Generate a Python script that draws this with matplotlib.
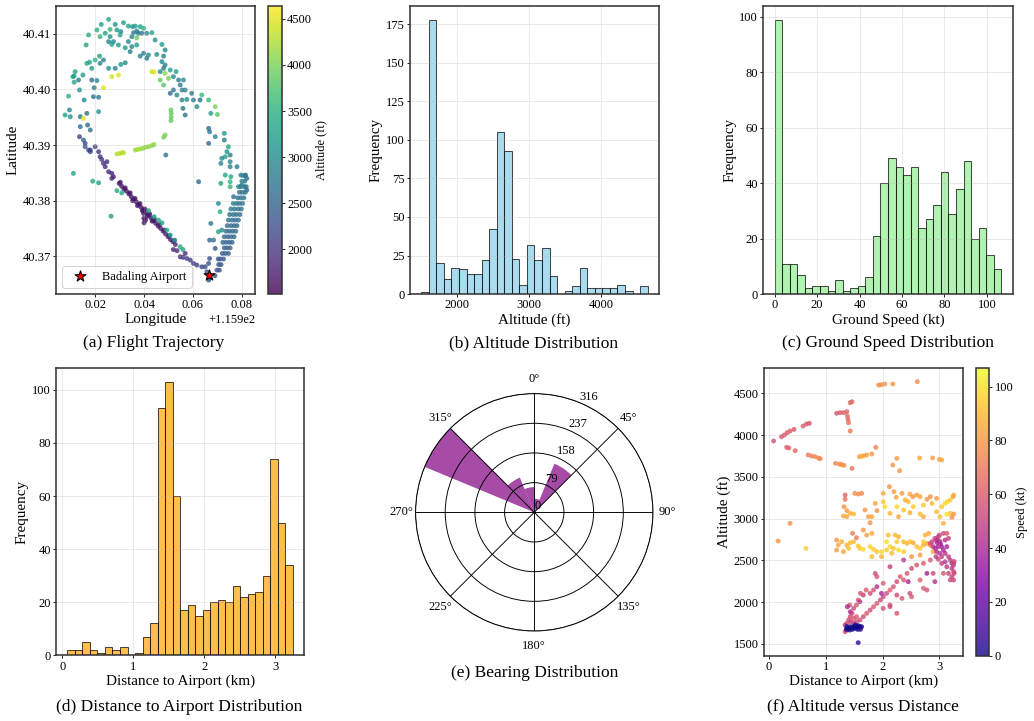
import numpy as np
import matplotlib.pyplot as plt

plt.rcParams['font.family'] = ['Liberation Serif', 'DejaVu Serif']
plt.rcParams['font.size'] = 12

# ---------------- data ----------------
airport_lon = 115.9666
airport_lat = 40.3666

# (a) trajectory points: longitude, latitude, altitude (ft)
traj_lon = [
    # scattered loop
    115.9077, 115.9095, 115.9114, 115.9114, 115.9132, 115.9091, 115.9098, 115.9139, 115.9139, 115.9136,
    115.9152, 115.9152, 115.9169, 115.9180, 115.9159, 115.9173, 115.9180, 115.9155, 115.9166, 115.9193,
    115.9214, 115.9214, 115.9150, 115.9166, 115.9177, 115.9186, 115.9200, 115.9218, 115.9220, 115.9234,
    115.9255, 115.9282, 115.9305, 115.9323, 115.9295, 115.9268, 115.9234, 115.9186, 115.9196, 115.9207,
    115.9136, 115.9163, 115.9173, 115.9207, 115.9225, 115.9255, 115.9220, 115.9241, 115.9261, 115.9282,
    115.9289, 115.9305, 115.9316, 115.9302, 115.9261, 115.9275, 115.9255, 115.9295, 115.9268, 115.9336,
    115.9353, 115.9364, 115.9370, 115.9384, 115.9398, 115.9357, 115.9377, 115.9391, 115.9370, 115.9411,
    115.9350, 115.9336, 115.9323, 115.9350, 115.9370, 115.9343, 115.9384, 115.9398, 115.9411, 115.9418,
    115.9432, 115.9445, 115.9473, 115.9486, 115.9480, 115.9452, 115.9473, 115.9486, 115.9507, 115.9480,
    115.9466, 115.9500, 115.9486, 115.9466, 115.9480, 115.9432, 115.9441, 115.9520, 115.9531, 115.9541,
    115.9561, 115.9548, 115.9555, 115.9520, 115.9507, 115.9534, 115.9568, 115.9595, 115.9575, 115.9555,
    115.9559, 115.9568, 115.9602, 115.9629, 115.9616, 115.9636, 115.9664, 115.9691, 115.9700, 115.9673,
    115.9664, 115.9668, 115.9664, 115.9691, 115.9728, 115.9728, 115.9745, 115.9739, 115.9732, 115.9752,
    115.9718, 115.9714, 115.9752, 115.9752, 115.9780, 115.9732, 115.9714, 115.9752, 115.9752, 115.9796,
    115.9814, 115.9820, 115.9820, 115.9800, 115.9786, 115.9623, 115.9755,
    # approach band east of the field
    115.9805, 115.9815, 115.9800, 115.9812, 115.9795, 115.9810, 115.9818, 115.9790, 115.9802, 115.9814,
    115.9783, 115.9796, 115.9808,
    115.9778, 115.9790, 115.9803, 115.9765, 115.9770, 115.9785, 115.9798, 115.9755, 115.9765, 115.9778,
    115.9792, 115.9750, 115.9760, 115.9773, 115.9786, 115.9745,
    115.9755, 115.9768, 115.9780, 115.9740, 115.9748, 115.9762, 115.9775, 115.9735, 115.9742, 115.9755,
    115.9768, 115.9728, 115.9735, 115.9748, 115.9760, 115.9722,
    115.9728, 115.9740, 115.9752, 115.9720, 115.9732, 115.9745, 115.9712, 115.9725, 115.9703, 115.9705,
    115.9715, 115.9698, 115.9708, 115.9690, 115.9668,
    115.9704, 115.9711, 115.9673, 115.9668, 115.9684, 115.9704, 115.9718, 115.9766,
    # path to the airport
    115.9548, 115.9559, 115.9568, 115.9575, 115.9589, 115.9602, 115.9616, 115.9636, 115.9650, 115.9664,
    115.9668, 115.9691, 115.9664, 115.9657,
    # runway-like low line
    115.9298, 115.9308, 115.9318, 115.9328, 115.9338, 115.9348, 115.9358, 115.9368, 115.9378, 115.9388,
    115.9398, 115.9408, 115.9418, 115.9428, 115.9438, 115.9448, 115.9458, 115.9468, 115.9478, 115.9488,
    115.9498, 115.9508, 115.9518, 115.9528,
    115.9303, 115.9323, 115.9343, 115.9363, 115.9383, 115.9403, 115.9423, 115.9443, 115.9463, 115.9483,
    115.9503, 115.9523,
    115.9353, 115.9373, 115.9393, 115.9413, 115.9433,
    115.9398, 115.9399, 115.9400, 115.9406,
    115.9520, 115.9535,
    # descent on the west side
    115.9159, 115.9180, 115.9214, 115.9220, 115.9234, 115.9248, 115.9241, 115.9255, 115.9268, 115.9268,
    115.9275, 115.9200, 115.9227,
    # mid-altitude points near the line
    115.9111, 115.9190, 115.9214, 115.9265, 115.9289, 115.9309, 115.9418, 115.9441, 115.9459, 115.9473,
    115.9493, 115.9507, 115.9525, 115.9548, 115.9559,
    # high leg across the middle
    115.9289, 115.9300, 115.9309, 115.9316, 115.9364, 115.9373, 115.9384, 115.9395, 115.9406, 115.9418,
    115.9432, 115.9441, 115.9480, 115.9486, 115.9510, 115.9511, 115.9511, 115.9510, 115.9489,
    115.9109, 115.9118,
]
traj_lat = [
    40.3954, 40.3963, 40.4013, 40.4024, 40.4017, 40.3988, 40.3951, 40.3951, 40.3933, 40.3915,
    40.3948, 40.3909, 40.3936, 40.3927, 40.3897, 40.3891, 40.3888, 40.3981, 40.3957, 40.3987,
    40.3986, 40.3960, 40.4026, 40.4047, 40.4049, 40.4038, 40.4053, 40.4060, 40.4047, 40.4053,
    40.4038, 40.4038, 40.4045, 40.4048, 40.4026, 40.4023, 40.4003, 40.4017, 40.4003, 40.4016,
    40.3999, 40.4080, 40.4098, 40.4107, 40.4117, 40.4126, 40.4095, 40.4101, 40.4108, 40.4117,
    40.4107, 40.4104, 40.4120, 40.4098, 40.4095, 40.4086, 40.4086, 40.4080, 40.4081, 40.4114,
    40.4113, 40.4114, 40.4105, 40.4113, 40.4110, 40.4102, 40.4101, 40.4101, 40.4093, 40.4101,
    40.4095, 40.4086, 40.4075, 40.4077, 40.4080, 40.4068, 40.4060, 40.4065, 40.4056, 40.4062,
    40.4102, 40.4089, 40.4081, 40.4071, 40.4060, 40.4063, 40.4050, 40.4044, 40.4035, 40.4038,
    40.4032, 40.4020, 40.4029, 40.4017, 40.4008, 40.4032, 40.4031, 40.4023, 40.4032, 40.4017,
    40.4017, 40.4008, 40.3999, 40.3999, 40.3993, 40.3990, 40.3999, 40.3993, 40.3982, 40.3981,
    40.3966, 40.3954, 40.3981, 40.3981, 40.3969, 40.3990, 40.3981, 40.3969, 40.3955, 40.3957,
    40.3930, 40.3924, 40.3903, 40.3915, 40.3921, 40.3909, 40.3897, 40.3888, 40.3879, 40.3882,
    40.3876, 40.3867, 40.3870, 40.3861, 40.3861, 40.3846, 40.3831, 40.3834, 40.3825, 40.3846,
    40.3846, 40.3840, 40.3819, 40.3828, 40.3825, 40.3834, 40.3843,
    40.3845, 40.3845, 40.3835, 40.3835, 40.3825, 40.3825, 40.3825, 40.3815, 40.3815, 40.3815,
    40.3805, 40.3805, 40.3805,
    40.3795, 40.3795, 40.3795, 40.3795, 40.3785, 40.3785, 40.3785, 40.3785, 40.3775, 40.3775,
    40.3775, 40.3775, 40.3765, 40.3765, 40.3765, 40.3765,
    40.3755, 40.3755, 40.3755, 40.3755, 40.3745, 40.3745, 40.3745, 40.3745, 40.3735, 40.3735,
    40.3735, 40.3735, 40.3725, 40.3725, 40.3725, 40.3725,
    40.3715, 40.3715, 40.3715, 40.3705, 40.3705, 40.3705, 40.3695, 40.3695, 40.3695, 40.3685,
    40.3685, 40.3675, 40.3675, 40.3665, 40.3660,
    40.3795, 40.3780, 40.3759, 40.3729, 40.3729, 40.3744, 40.3747, 40.3807,
    40.3699, 40.3698, 40.3705, 40.3696, 40.3693, 40.3687, 40.3684, 40.3681, 40.3681, 40.3687,
    40.3696, 40.3714, 40.3657, 40.3672,
    40.3831, 40.3826, 40.3821, 40.3817, 40.3812, 40.3807, 40.3802, 40.3798, 40.3793, 40.3788,
    40.3783, 40.3778, 40.3774, 40.3769, 40.3764, 40.3759, 40.3754, 40.3750, 40.3745, 40.3740,
    40.3735, 40.3730, 40.3726, 40.3721,
    40.3833, 40.3823, 40.3814, 40.3804, 40.3795, 40.3785, 40.3776, 40.3766, 40.3757, 40.3747,
    40.3737, 40.3728,
    40.3800, 40.3791, 40.3782, 40.3772, 40.3763,
    40.3777, 40.3768, 40.3760, 40.3765,
    40.3712, 40.3710,
    40.3903, 40.3891, 40.3888, 40.3879, 40.3867, 40.3870, 40.3861, 40.3852, 40.3849, 40.3840,
    40.3843, 40.3897, 40.3874,
    40.3849, 40.3835, 40.3832, 40.3772, 40.3818, 40.3814, 40.3782, 40.3771, 40.3765, 40.3760,
    40.3747, 40.3738, 40.3729, 40.3717, 40.3712,
    40.3884, 40.3885, 40.3886, 40.3886, 40.3891, 40.3892, 40.3893, 40.3894, 40.3896, 40.3897,
    40.3899, 40.3901, 40.3914, 40.3918, 40.3963, 40.3957, 40.3950, 40.3944, 40.3882,
    40.4023, 40.4032,
]
traj_alt = [
    3300, 3000, 3300, 3300, 2800, 3500, 3100, 2700, 2600, 2100,
    4500, 2500, 2600, 2700, 2400, 2300, 2200, 3000, 2700, 2700,
    2800, 3200, 3200, 3400, 3300, 3300, 3500, 3300, 2900, 2900,
    3100, 2900, 3200, 3000, 4500, 4400, 4500, 2600, 2700, 2900,
    3100, 3300, 3400, 3500, 3300, 3400, 3600, 3300, 3600, 3100,
    3200, 3000, 3300, 3300, 3100, 3000, 2900, 3200, 3300, 3300,
    3000, 3300, 2900, 3300, 3500, 2800, 2700, 2800, 3900, 3000,
    2900, 3000, 3200, 3000, 3200, 2900, 2900, 2800, 2800, 3000,
    3300, 3100, 3200, 3000, 2900, 3100, 2900, 2900, 3300, 2800,
    3000, 4000, 4100, 3900, 3800, 4400, 4500, 3000, 3300, 2800,
    3000, 2800, 2900, 2700, 2600, 3000, 2800, 2800, 3100, 2900,
    2800, 2700, 2800, 2700, 3000, 3600, 3600, 4000, 3800, 3300,
    2600, 2700, 2500, 3000, 3200, 2700, 3300, 3100, 3300, 2800,
    3000, 2900, 3000, 2900, 2800, 3300, 3300, 3500, 3600, 2900,
    2700, 2700, 2500, 2900, 3000, 2600, 3400,
    2850, 2800, 2800, 2850, 2750, 2800, 2750, 2750, 2700, 2750,
    2700, 2750, 2700,
    2700, 2650, 2700, 2800, 2650, 2650, 2700, 2750, 2600, 2650,
    2650, 2700, 2600, 2600, 2650, 2650,
    2550, 2600, 2600, 2600, 2550, 2550, 2600, 2600, 2500, 2550,
    2550, 2550, 2500, 2500, 2500, 2550,
    2450, 2450, 2500, 2400, 2450, 2450, 2400, 2400, 2350, 2350,
    2350, 2300, 2300, 2300, 2400,
    3000, 3500, 2700, 2500, 2700, 3300, 3000, 2600,
    1900, 2000, 1900, 2100, 2100, 2000, 2100, 2200, 2200, 2300,
    2300, 2400, 2400, 2300,
    1720, 1710, 1700, 1700, 1690, 1700, 1700, 1690, 1700, 1700,
    1690, 1700, 1700, 1700, 1710, 1700, 1700, 1720, 1740, 1760,
    1780, 1800, 1820, 1850,
    1720, 1700, 1700, 1700, 1700, 1700, 1700, 1710, 1720, 1760,
    1800, 1850,
    1700, 1700, 1700, 1700, 1700,
    1690, 1690, 1690, 1690,
    1850, 1900,
    2200, 2100, 2000, 2000, 1950, 1900, 1950, 1900, 1850, 1900,
    1850, 2100, 2000,
    3300, 3400, 3300, 3200, 3400, 3300, 3300, 3200, 3400, 3300,
    3400, 3300, 3200, 3400, 3300,
    4300, 4300, 4300, 4300, 4200, 4200, 4200, 4150, 4150, 4100,
    4100, 4100, 4000, 4000, 3900, 3900, 3900, 3900, 2700,
    3300, 3300,
]
alt_min, alt_max = 1512, 4640

# (b)-(d) histogram counts, 30 bins each
alt_counts = [1, 178, 20, 10, 17, 16, 13, 13, 22, 42, 105, 93, 23, 6, 32,
              22, 30, 12, 0, 2, 5, 17, 4, 4, 4, 4, 6, 2, 0, 5]
speed_counts = [99, 11, 11, 7, 2, 3, 3, 1, 5, 1, 2, 3, 6, 21, 40,
                49, 46, 43, 46, 24, 27, 32, 44, 29, 38, 48, 20, 24, 14, 9]
dist_counts = [2, 2, 5, 2, 1, 3, 2, 3, 0, 1, 7, 12, 93, 103, 60,
               17, 19, 15, 17, 20, 21, 20, 26, 22, 23, 24, 30, 74, 50, 34]
alt_edges = np.linspace(alt_min, alt_max, 31)
speed_edges = np.linspace(0, 106.8, 31)
dist_edges = np.linspace(0.07, 3.25, 31)

# (e) bearing histogram, 16 sectors from north clockwise
bearing_counts = [36, 140, 4, 2, 0, 3, 2, 0, 2, 3, 2, 0, 8, 316, 100, 67]
bearing_edges = np.linspace(0, 360, 17)

# (f) distance to airport (km), altitude (ft), speed (kt)
dist_km = [
    0.08, 0.22, 0.27, 0.32, 0.37, 0.44, 0.60, 0.66, 0.71, 0.31, 0.35, 0.46, 0.69, 0.75, 0.81, 0.87, 0.90,
    1.19, 1.25, 1.31, 1.37, 1.43, 1.46, 1.38, 1.39, 1.40, 1.43, 1.93, 1.98, 2.04, 2.18, 2.61,
    1.17, 1.24, 1.28, 1.32, 1.46,
    1.59, 1.63, 1.67, 1.72, 1.81, 1.88, 2.18, 2.25, 2.30, 2.65, 2.88, 3.00, 3.04, 0.16, 0.37, 0.65,
    1.34, 1.34, 1.32, 1.37, 1.31, 1.37, 1.43, 1.49, 1.51, 1.57,
    1.63, 1.69, 1.75, 1.81, 1.90, 1.87, 2.01, 2.01, 2.04, 2.12,
    2.20, 2.24, 2.25, 2.34, 2.40, 2.45, 2.48, 2.53, 2.54, 2.60,
    2.66, 2.72, 2.78, 2.84, 2.87, 2.95, 3.04, 3.10, 3.14, 3.19,
    3.25, 3.24, 3.19, 3.13, 3.01, 3.07, 2.95, 3.25, 3.22, 2.72,
    2.66, 2.48, 2.37, 2.28, 2.13, 1.78, 1.66, 1.54, 1.47,
    1.19, 1.22, 1.19, 1.37, 1.43, 1.49, 1.57, 1.60, 1.66, 1.78,
    1.84, 1.81, 1.90, 1.98, 2.07, 2.13, 2.19, 2.25, 2.28, 2.37,
    2.43, 2.48, 2.54, 2.60, 2.66, 2.72, 2.78, 2.84, 2.66, 2.51,
    2.37, 2.28, 2.16, 1.98, 1.72, 1.81, 2.07, 2.10, 2.22, 2.75,
    2.81, 2.72, 2.98, 2.89, 1.28, 1.40, 1.31,
    2.92, 2.95, 2.98, 3.00, 3.01, 3.04, 3.07, 3.10, 3.13, 3.16,
    3.13, 3.07, 3.01, 2.98, 2.95, 3.04, 3.10, 3.16, 3.19, 3.22,
    3.25, 3.26, 3.25, 3.22, 3.25, 3.26, 3.22, 3.25, 3.19, 3.16,
    3.13, 3.10, 3.04, 2.98, 2.94, 2.89, 2.87, 2.84, 3.07, 2.96,
    3.02, 2.93,
    2.84, 2.72, 2.60, 2.51, 2.43, 2.37, 2.31, 2.25, 2.19, 2.13,
    2.07, 2.01, 1.96, 1.90, 1.84, 1.78, 1.72, 1.66, 1.60, 1.54,
    1.49, 2.13, 2.01, 1.98, 1.90, 1.84, 1.78, 1.71, 1.66, 1.61,
    1.57, 1.54, 1.60, 1.49, 1.46, 1.42, 2.72, 2.78, 2.66, 2.48,
    2.34, 2.25, 2.13, 2.51, 2.25, 2.01, 1.90, 1.87, 2.13, 2.37,
    2.45, 2.78, 2.92, 2.89,
    1.37, 1.37, 1.40, 1.43, 1.44, 1.49, 1.54, 1.34, 1.38, 1.43, 1.34,
    1.37, 1.40, 1.43, 1.46, 1.49, 1.52, 1.54, 1.57, 1.60, 1.56, 1.47, 1.42, 1.36, 1.52, 1.57, 1.61, 1.63, 1.57,
]
dist_alt = [
    3930, 3981, 4001, 4029, 4049, 4069, 4109, 4133, 4141, 3854, 3846, 3814, 3762, 3750, 3742, 3726, 3718,
    4261, 4269, 4269, 4281, 4388, 4400, 4229, 4189, 4149, 4049, 4600, 4604, 4612, 4612, 4640,
    3662, 3654, 3646, 3638, 3602,
    3742, 3746, 3754, 3762, 3774, 3854, 3642, 3722, 3574, 3726, 3726, 3710, 3702, 2732, 2944, 2645,
    3283, 3231, 3143, 3096, 3032, 3024, 3064, 3056, 3303, 3295,
    3303, 3104, 3024, 3024, 3096, 3183, 3303, 3203, 3143, 3383,
    3323, 3255, 3143, 3303, 3223, 3203, 3295, 3263, 3143, 3283,
    3263, 3163, 3231, 3263, 3183, 3243, 3143, 3183, 3203, 3223,
    3283, 3263, 3064, 3052, 3024, 2944, 3084, 3056, 3016, 3024,
    3056, 3072, 3104, 3024, 3064, 2952, 2864, 2772, 2824,
    2744, 2684, 2625, 2684, 2712, 2724, 2673, 2645, 2633, 2665,
    2633, 2545, 2605, 2605, 2625, 2665, 2645, 2724, 2784, 2724,
    2704, 2724, 2712, 2665, 2645, 2684, 2704, 2680, 2565, 2545,
    2605, 2625, 2585, 2545, 2804, 2824, 2724, 2804, 2804, 2804,
    2824, 2724, 2744, 2605, 2724, 2645, 2605,
    2764, 2744, 2784, 2804, 2724, 2665, 2824, 2744, 2824, 2764,
    2665, 2625, 2585, 2665, 2605, 2545, 2585, 2545, 2505, 2465,
    2485, 2485, 2445, 2405, 2365, 2345, 2306, 2266, 2266, 2345,
    2425, 2485, 2465, 2513, 2545, 2665, 2724, 2704, 2345, 2712,
    2696, 2645,
    2505, 2465, 2445, 2405, 2345, 2266, 2306, 2246, 2186, 2146,
    2106, 2066, 2026, 1986, 1946, 1906, 1867, 1827, 1787, 1767,
    1747, 1946, 1926, 2106, 2186, 2146, 2106, 2146, 2086, 2106,
    2026, 1966, 2006, 1926, 1867, 1966, 2166, 2146, 2266, 2106,
    2046, 1867, 1966, 2066, 2086, 2226, 2306, 2345, 2425, 2505,
    2246, 2345, 2246, 2345,
    1747, 1667, 1787, 1827, 1767, 1807, 1827, 1727, 1946, 1886, 1647,
    1707, 1687, 1707, 1695, 1707, 1687, 1707, 1719, 1707, 1675, 1675, 1667, 1675, 1727, 1699, 1675, 1707, 1515,
]
dist_speed = [
    58, 60, 60, 62, 62, 60, 60, 58, 58, 62, 62, 65, 72, 72, 74, 75, 75,
    60, 60, 62, 62, 65, 65, 65, 65, 66, 70, 78, 78, 80, 80, 76,
    75, 75, 78, 78, 70,
    85, 85, 85, 82, 80, 75, 80, 82, 80, 85, 82, 85, 85, 80, 78, 95,
    65, 68, 80, 82, 85, 85, 88, 90, 78, 78,
    75, 80, 82, 85, 80, 85, 85, 95, 100, 80,
    82, 85, 98, 82, 85, 90, 85, 80, 95, 82,
    85, 95, 80, 78, 90, 82, 95, 100, 98, 95,
    85, 85, 95, 100, 92, 88, 90, 80, 78, 85,
    90, 88, 92, 85, 90, 78, 80, 70, 72,
    82, 85, 82, 88, 90, 92, 95, 95, 100, 98,
    95, 90, 92, 100, 95, 98, 92, 95, 88, 90,
    88, 92, 85, 92, 95, 88, 85, 82, 82, 80,
    95, 100, 90, 88, 82, 85, 100, 92, 90, 88,
    85, 95, 80, 85, 88, 92, 85,
    50, 45, 48, 50, 42, 40, 55, 45, 58, 50,
    38, 40, 42, 40, 45, 50, 45, 50, 48, 45,
    50, 55, 50, 48, 52, 55, 50, 52, 55, 52,
    48, 45, 50, 52, 48, 45, 50, 55, 58, 40,
    38, 42,
    58, 60, 58, 55, 60, 58, 60, 55, 58, 60,
    55, 50, 55, 58, 60, 55, 58, 55, 52, 55,
    50, 58, 55, 40, 45, 58, 55, 60, 50, 58,
    60, 58, 45, 55, 52, 58, 60, 58, 62, 55,
    60, 58, 55, 60, 55, 60, 58, 55, 50, 45,
    40, 38, 45, 55,
    55, 50, 58, 55, 50, 58, 60, 45, 40, 45, 55,
    0, 0, 0, 0, 0, 1, 0, 0, 2, 0, 0, 0, 0, 0, 0, 3, 1, 5,
]
speed_max = 106.8

TICK = 12
LABEL = 14.5
TITLE = 16.7
DOT = 22


def style_axes(ax):
    ax.grid(True, alpha=0.3)
    for sp in ax.spines.values():
        sp.set_color('#333333')
        sp.set_linewidth(1.5)
    ax.tick_params(labelsize=TICK, length=3, pad=2)
    ax.xaxis.labelpad = 2
    ax.yaxis.labelpad = 3


def style_cbar(cb, label):
    cb.set_label(label, fontsize=TICK, labelpad=3)
    cb.ax.tick_params(labelsize=TICK, length=3, pad=2)
    cb.outline.set_edgecolor('#333333')
    cb.outline.set_linewidth(1.5)


fig = plt.figure(figsize=(1034 / 75, 721 / 75), dpi=75)

# (a) flight trajectory
ax = fig.add_axes([0.0542, 0.5922, 0.1925, 0.3994])
sc = ax.scatter(traj_lon, traj_lat, c=traj_alt, cmap='viridis', s=DOT, alpha=0.8,
                linewidths=0, vmin=alt_min, vmax=alt_max)
ax.scatter([airport_lon], [airport_lat], marker='*', s=120, color='red',
           edgecolors='black', linewidths=1.0, zorder=5, label='Badaling Airport')
ax.set_xlim(115.904, 115.9854)
ax.set_ylim(40.3632, 40.415)
ax.set_xlabel('Longitude', fontsize=LABEL)
ax.set_ylabel('Latitude', fontsize=LABEL)
ax.legend(loc='lower left', fontsize=TICK)
style_axes(ax)
cax = fig.add_axes([0.2592, 0.5922, 0.01354, 0.3994])
cb = fig.colorbar(sc, cax=cax)
style_cbar(cb, 'Altitude (ft)')
fig.text(0.149, 0.524, '(a) Flight Trajectory', ha='center', va='center', fontsize=TITLE)

# (b) altitude histogram
ax = fig.add_axes([0.3965, 0.5922, 0.2408, 0.3994])
ax.bar(alt_edges[:-1], alt_counts, width=np.diff(alt_edges), align='edge',
       color='skyblue', edgecolor='black', alpha=0.7, linewidth=1.0)
ax.set_xlabel('Altitude (ft)', fontsize=LABEL)
ax.set_ylabel('Frequency', fontsize=LABEL)
style_axes(ax)
fig.text(0.5165, 0.524, '(b) Altitude Distribution', ha='center', va='center', fontsize=TITLE)

# (c) ground speed histogram
ax = fig.add_axes([0.7382, 0.5922, 0.2412, 0.3994])
ax.bar(speed_edges[:-1], speed_counts, width=np.diff(speed_edges), align='edge',
       color='lightgreen', edgecolor='black', alpha=0.7, linewidth=1.0)
ax.set_xlabel('Ground Speed (kt)', fontsize=LABEL)
ax.set_ylabel('Frequency', fontsize=LABEL)
style_axes(ax)
fig.text(0.8586, 0.524, '(c) Ground Speed Distribution', ha='center', va='center', fontsize=TITLE)

# (d) distance histogram
ax = fig.add_axes([0.0542, 0.0911, 0.2401, 0.3981])
ax.bar(dist_edges[:-1], dist_counts, width=np.diff(dist_edges), align='edge',
       color='orange', edgecolor='black', alpha=0.7, linewidth=1.0)
ax.set_xlabel('Distance to Airport (km)', fontsize=LABEL)
ax.set_ylabel('Frequency', fontsize=LABEL)
style_axes(ax)
fig.text(0.1733, 0.0198, '(d) Distance to Airport Distribution', ha='center', va='center', fontsize=TITLE)

# (e) bearing rose
ax = fig.add_axes([0.4019, 0.1248, 0.2296, 0.3293], projection='polar')
ax.set_theta_zero_location('N')
ax.set_theta_direction(-1)
ax.bar(np.deg2rad(bearing_edges[:-1]), bearing_counts, width=np.deg2rad(np.diff(bearing_edges)),
       align='edge', color='purple', alpha=0.7, edgecolor='none')
rmax = max(bearing_counts)
ax.set_ylim(0, rmax)
ax.set_yticks(np.linspace(0, rmax, 5))
ax.grid(True, color='black', linewidth=0.9)
ax.spines['polar'].set_color('black')
ax.spines['polar'].set_linewidth(0.9)
ax.tick_params(labelsize=TICK)
fig.text(0.5168, 0.0666, '(e) Bearing Distribution', ha='center', va='center', fontsize=TITLE)

# (f) altitude versus distance
ax = fig.add_axes([0.7389, 0.0906, 0.1927, 0.3986])
sc = ax.scatter(dist_km, dist_alt, c=dist_speed, cmap='plasma', s=DOT, alpha=0.8,
                linewidths=0, vmin=0, vmax=speed_max)
ax.set_xlim(-0.088, 3.42)
ax.set_ylim(1360, 4800)
ax.set_xlabel('Distance to Airport (km)', fontsize=LABEL)
ax.set_ylabel('Altitude (ft)', fontsize=LABEL)
style_axes(ax)
cax = fig.add_axes([0.9436, 0.0906, 0.01315, 0.3986])
cb = fig.colorbar(sc, cax=cax)
style_cbar(cb, 'Speed (kt)')
fig.text(0.8344, 0.0198, '(f) Altitude versus Distance', ha='center', va='center', fontsize=TITLE)

fig.savefig('out.png', dpi=75)
